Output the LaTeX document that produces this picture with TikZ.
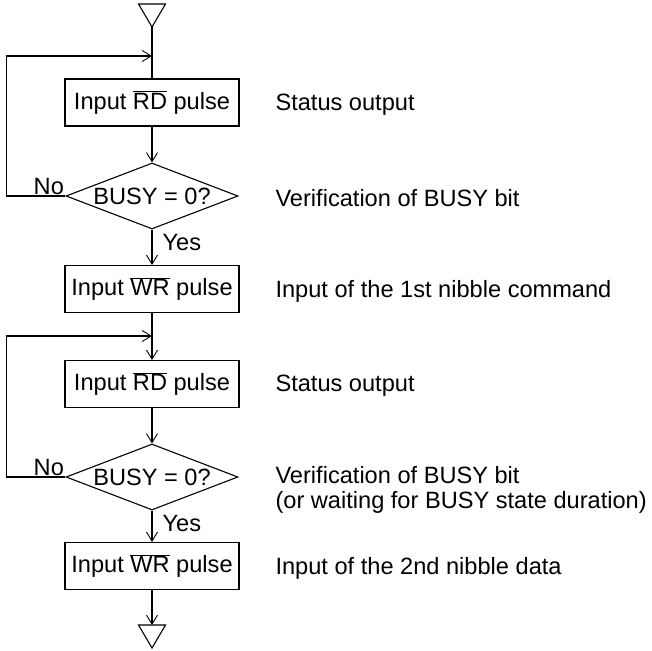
\documentclass[tikz,border=0pt]{standalone}
\usepackage{fontspec}
\setmainfont{Liberation Sans}
\usetikzlibrary{arrows.meta,shapes.geometric}
\begin{document}
\begin{tikzpicture}[x=1pt,y=-1pt, line width=1.1pt,
  every node/.style={font=\fontsize{23.6}{24.5}\selectfont},
  stepbox/.style={draw, minimum width=174pt, minimum height=47pt, inner sep=0pt},
  decision/.style={draw, diamond, aspect=2.6, minimum width=172pt, minimum height=66pt, inner sep=0pt},
  desc/.style={anchor=west, align=left, inner sep=0pt},
  lbl/.style={inner sep=1pt},
  arr/.style={-{Straight Barb[length=9pt,width=11pt,line width=0.9pt]}}
]
\useasboundingbox (0,0) rectangle (652,650);

% top terminal triangle
\coordinate (tA) at (152,27);
\draw (138.5,4) -- (165.5,4) -- (tA) -- cycle;

\coordinate (j1) at (152,56);
\coordinate (j2) at (152,336);

\node[stepbox] (b1) at (152,102.5) {Input $\overline{\mbox{RD}}$ pulse};
\node[decision] (d1) at (152,196) {BUSY = 0?};
\node[stepbox] (b2) at (152,289) {Input $\overline{\mbox{WR}}$ pulse};
\node[stepbox] (b3) at (152,384) {Input $\overline{\mbox{RD}}$ pulse};
\node[decision] (d2) at (152,477) {BUSY = 0?};
\node[stepbox] (b4) at (152,566) {Input $\overline{\mbox{WR}}$ pulse};

% bottom terminal triangle
\coordinate (bT) at (152,625);
\draw (138.5,625) -- (165.5,625) -- (152,648) -- cycle;

% connectors
\draw (tA) -- (b1.north);
\draw[arr] (d1.west) -- ++(-59,0) |- (j1);
\draw[arr] (b1.south) -- (d1.north);
\draw[arr] (d1.south) -- (b2.north);
\draw[arr] (b2.south) -- (b3.north);
\draw[arr] (d2.west) -- ++(-59,0) |- (j2);
\draw[arr] (b3.south) -- (d2.north);
\draw[arr] (d2.south) -- (b4.north);
\draw[arr] (b4.south) -- (bT);

% labels
\node[lbl, anchor=south east] (no1) at (d1.west) {No};
\node[lbl, anchor=north west] (yes1) at ([xshift=9pt,yshift=-3pt]d1.south) {Yes};
\node[lbl, anchor=south east] (no2) at (d2.west) {No};
\node[lbl, anchor=north west] (yes2) at ([xshift=9pt,yshift=-3pt]d2.south) {Yes};

% descriptions
\node[desc] (t1) at (275,105) {Status output};
\node[desc] (t2) at (275,198) {Verification of BUSY bit};
\node[desc] (t3) at (275,291) {Input of the 1st nibble command};
\node[desc] (t4) at (275,386) {Status output};
\node[desc] (t5) at (275,490) {Verification of BUSY bit\\(or waiting for BUSY state duration)};
\node[desc] (t6) at (275,568) {Input of the 2nd nibble data};
\end{tikzpicture}
\end{document}
